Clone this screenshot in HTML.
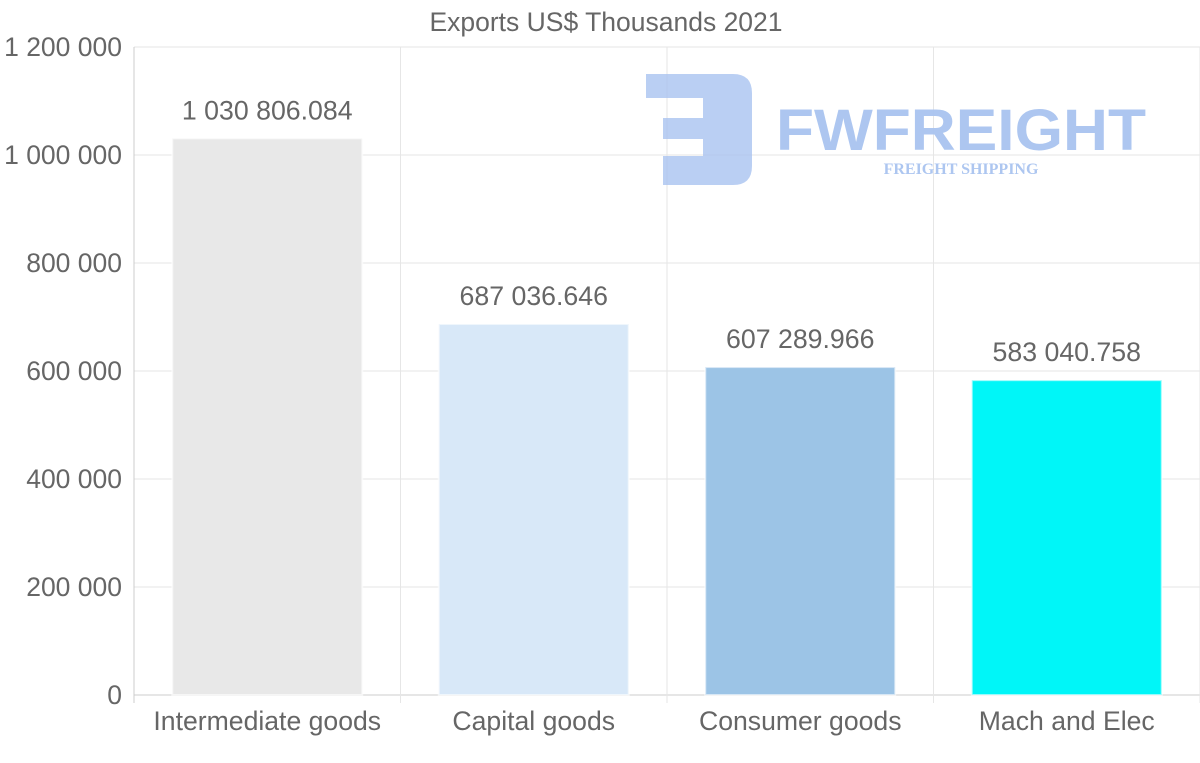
<!DOCTYPE html>
<html><head><meta charset="utf-8"><style>
html,body{margin:0;padding:0;background:#fff;}
svg{display:block;font-family:"Liberation Sans",sans-serif;}
</style></head><body>
<svg id="chart" width="1200" height="763" viewBox="0 0 1200 763">
<text x="606" y="31" text-anchor="middle" font-size="26.5" fill="#666">Exports US$ Thousands 2021</text>
<g id="grid"></g>
<g id="bars"></g>
<g opacity="0.95">
<path d="M646 74 H733 Q752 74 752 93 V166 Q752 185 733 185 H663 V156 H703 V139 H663 V118 H703 V98 H646 Z" fill="#a9c4f0" fill-opacity="0.85"/>
<text x="776" y="150" font-size="58" font-weight="bold" fill="#a9c4f0" textLength="370" lengthAdjust="spacingAndGlyphs">FWFREIGHT</text>
<text x="961" y="174" text-anchor="middle" font-size="16" font-weight="bold" font-family="Liberation Serif,serif" fill="#a9c4f0">FREIGHT SHIPPING</text>
</g>
<g id="labels"></g>
</svg>
<script>
const categories=["Intermediate goods","Capital goods","Consumer goods","Mach and Elec"];
const values=[1030806.084,687036.646,607289.966,583040.758];
const valueLabels=["1 030 806.084","687 036.646","607 289.966","583 040.758"];
const colors=["#e8e8e8","#d8e8f8","#9cc4e6","#00f6f8"];
const yTicks=[0,200000,400000,600000,800000,1000000,1200000];
const yTickLabels=["0","200 000","400 000","600 000","800 000","1 000 000","1 200 000"];
const NS="http://www.w3.org/2000/svg";
const L=134,R=1200,T=47,B=695,yMax=1200000;
const bw=(R-L)/categories.length;
const y=v=>B-(v/yMax)*(B-T);
const x=i=>L+bw*i;
function mk(tag,attrs,parent,text){const e=document.createElementNS(NS,tag);for(const k in attrs)e.setAttribute(k,attrs[k]);if(text!==undefined)e.textContent=text;parent.appendChild(e);return e;}
const grid=document.getElementById('grid'),bars=document.getElementById('bars'),labels=document.getElementById('labels');
yTicks.forEach((t,i)=>{
 const ln=mk('line',{x1:L,x2:R,y1:y(t),y2:y(t),stroke:i==0?'#ccc':'#e6e6e6','stroke-width':1},grid);
 
 
 const tx=mk('text',{x:122,y:y(t)+9,'text-anchor':'end','font-size':26.5,fill:'#666'},grid,yTickLabels[i]);
 
 
});
for(let i=0;i<=categories.length;i++){
 const ln=mk('line',{x1:x(i),x2:x(i),y1:T,y2:B+8,stroke:i==0?'#ccc':'#e6e6e6','stroke-width':1},grid);
 
 
}
categories.forEach((c,i)=>{
 const cx=x(i)+bw/2,w=190;
 const r=mk('rect',{x:cx-w/2,y:y(values[i]),width:w,height:B-y(values[i]),fill:colors[i],stroke:'rgba(255,255,255,0.6)','stroke-width':2},bars);
 
 
 const v=mk('text',{x:cx,y:y(values[i])-19,'text-anchor':'middle','font-size':26.7,fill:'#666'},labels,valueLabels[i]);
 
 
 const t=mk('text',{x:cx,y:730,'text-anchor':'middle','font-size':26.6,fill:'#666'},labels,c);
 
 
});
</script>
</body></html>
